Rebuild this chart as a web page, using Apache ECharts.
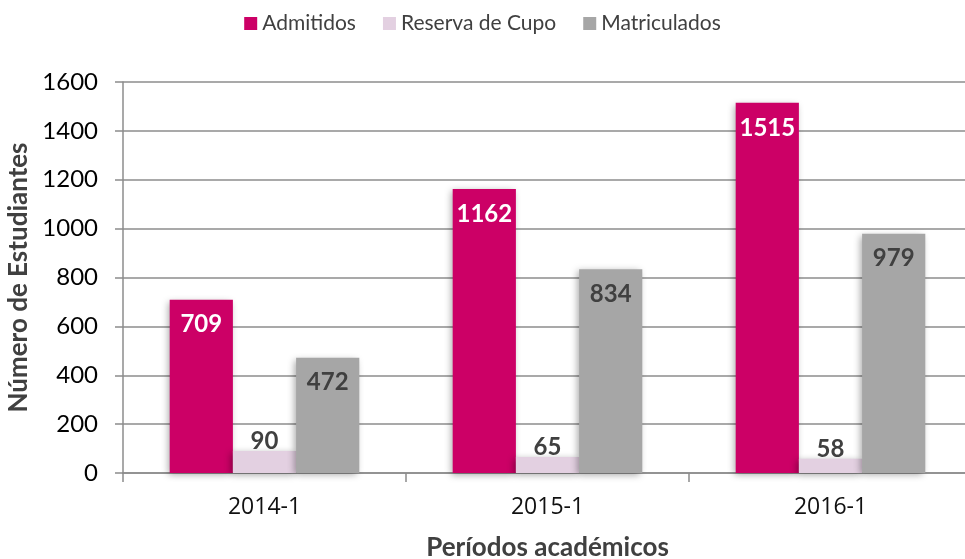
<!DOCTYPE html>
<html lang="es">
<head>
  <meta charset="UTF-8">
  <title>Estudiantes por periodo</title>
  <script src="https://cdn.jsdelivr.net/npm/echarts@6/dist/echarts.min.js"></script>
  <style>
    * { margin: 0; padding: 0; }
    #chart { width: 965px; height: 559px; }
  </style>
</head>
<body>
  <div id="chart"></div>
  <script>
    var periodos = ['2014-1', '2015-1', '2016-1'];
    var admitidos = [709, 1162, 1515];
    var reserva = [90, 65, 58];
    var matriculados = [472, 834, 979];

    var chart = echarts.init(document.getElementById('chart'));
    var sombra = {
      shadowColor: 'rgba(0,0,0,0.35)',
      shadowBlur: 7,
      shadowOffsetX: -2,
      shadowOffsetY: 2
    };
    var etiqueta = function (pos, color, dist) {
      return {
        show: true,
        position: pos,
        distance: dist,
        color: color,
        fontFamily: 'Lato',
        fontWeight: 'bold',
        fontSize: 24
      };
    };

    chart.setOption({
      animation: false,
      textStyle: { fontFamily: 'Lato' },
      legend: {
        top: 8,
        left: 'center',
        itemWidth: 13,
        itemHeight: 13,
        itemGap: 27,
        icon: 'rect',
        textStyle: { fontSize: 21, color: '#404040', fontFamily: 'Lato' }
      },
      grid: { left: 123, right: -7, top: 82, bottom: 86, outerBoundsMode: 'none' },
      xAxis: {
        type: 'category',
        data: periodos,
        name: 'Períodos académicos',
        nameLocation: 'middle',
        nameGap: 62,
        nameTextStyle: { fontSize: 26, fontWeight: 'bold', color: '#404040', fontFamily: 'Lato' },
        axisLine: { lineStyle: { color: '#8c8c8c', width: 1.5 } },
        axisTick: { show: true, length: 9, interval: 0, lineStyle: { color: '#8c8c8c', width: 1.5 } },
        axisLabel: { margin: 23, fontSize: 23, color: '#111', fontFamily: 'Open Sans' }
      },
      yAxis: {
        type: 'value',
        min: 0,
        max: 1600,
        interval: 200,
        name: 'Número de Estudiantes',
        nameLocation: 'middle',
        nameGap: 88,
        nameTextStyle: { fontSize: 26, fontWeight: 'bold', color: '#404040', fontFamily: 'Lato' },
        axisLine: { show: true, lineStyle: { color: '#8c8c8c', width: 1.5 } },
        axisTick: { show: true, length: 8, lineStyle: { color: '#8c8c8c', width: 1.5 } },
        axisLabel: {
          margin: 25, fontSize: 24, color: '#000', fontFamily: 'Lato',
          formatter: function (v) { return String(v); }
        },
        splitLine: { lineStyle: { color: '#8c8c8c', width: 1.5 } }
      },
      series: [{
        name: 'Admitidos',
        type: 'bar',
        data: admitidos,
        barGap: '0%',
        barCategoryGap: '33%',
        itemStyle: Object.assign({ color: '#cc0066' }, sombra),
        label: etiqueta('insideTop', '#ffffff', 13)
      }, {
        name: 'Reserva de Cupo',
        type: 'bar',
        data: reserva,
        itemStyle: Object.assign({ color: '#e3d0e1' }, sombra),
        label: etiqueta('top', '#404040', -2)
      }, {
        name: 'Matriculados',
        type: 'bar',
        data: matriculados,
        itemStyle: Object.assign({ color: '#a6a6a6' }, sombra),
        label: etiqueta('insideTop', '#404040', 13)
      }]
    });
  </script>
</body>
</html>
